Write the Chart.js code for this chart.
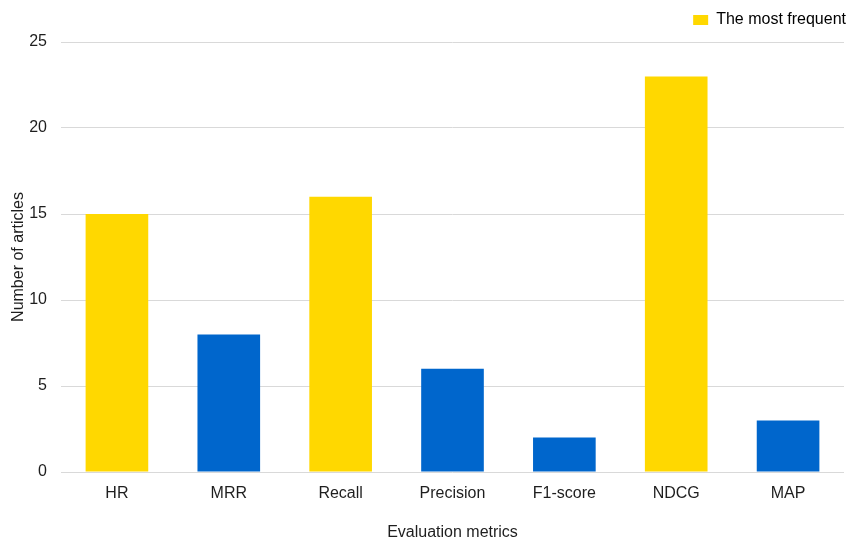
<!DOCTYPE html>
<html>
<head>
<meta charset="utf-8">
<script src="https://cdn.jsdelivr.net/npm/chart.js@4"></script>
<style>
  html, body { margin: 0; padding: 0; background: #fff; }
  #wrap { width: 849px; height: 543px; }
</style>
</head>
<body>
<div id="wrap"><canvas id="c" width="849" height="543"></canvas></div>
<script>
const categories = ["HR", "MRR", "Recall", "Precision", "F1-score", "NDCG", "MAP"];
const articleCounts = [15, 8, 16, 6, 2, 23, 3];
const mostFrequent = [true, false, true, false, false, true, false];
const yTicks = [0, 5, 10, 15, 20, 25];

const YELLOW = "#FFD800";
const BLUE = "#0066CC";
const TEXT = "#1e1e1e";
const FONT = { size: 16 };

const barColors = mostFrequent.map(f => f ? YELLOW : BLUE);

Chart.defaults.font.family = "'Liberation Sans', Arial, sans-serif";
Chart.defaults.color = TEXT;

// Leaves a little extra room under the legend before the plot starts.
const legendGap = {
  id: "legendGap",
  beforeInit(chart) {
    const fit = chart.legend.fit;
    chart.legend.fit = function () {
      fit.call(this);
      this.height += 4;
    };
  }
};

new Chart(document.getElementById("c"), {
  type: "bar",
  data: {
    labels: categories,
    datasets: [{
      label: "The most frequent",
      data: articleCounts,
      backgroundColor: barColors,
      borderWidth: 0,
      categoryPercentage: 0.56,
      barPercentage: 1.0,
      yAxisID: "y"
    }]
  },
  plugins: [legendGap],
  options: {
    responsive: false,
    animation: false,
    layout: { padding: { left: 7, right: 1, top: 10, bottom: 0 } },
    plugins: {
      legend: {
        position: "top",
        align: "end",
        labels: {
          boxWidth: 15,
          boxHeight: 10,
          padding: 2,
          font: FONT,
          color: TEXT,
          generateLabels: () => [{
            text: "The most frequent",
            fillStyle: YELLOW,
            strokeStyle: YELLOW,
            lineWidth: 0,
            hidden: false,
            datasetIndex: 0
          }]
        },
        onClick: () => {}
      },
      tooltip: { enabled: false }
    },
    scales: {
      x: {
        grid: { display: false, drawTicks: false },
        border: { display: false },
        ticks: { font: FONT, color: TEXT, padding: 12 },
        title: {
          display: true,
          text: "Evaluation metrics",
          font: FONT,
          color: TEXT,
          padding: { top: 22, bottom: 1 }
        },
        afterFit: s => { s.height = 71; }
      },
      y: {
        min: 0,
        max: 25,
        afterBuildTicks: axis => { axis.ticks = yTicks.map(v => ({ value: v })); },
        grid: { color: "#d9d9d9", drawTicks: false, lineWidth: 1 },
        border: { display: false },
        ticks: { font: FONT, color: TEXT, padding: 14 },
        title: {
          display: true,
          text: "Number of articles",
          font: FONT,
          color: TEXT,
          padding: { top: 2, bottom: 1 }
        },
        afterFit: s => { s.width = 54; }
      },
      gutter: {
        position: "right",
        display: true,
        grid: { display: false, drawTicks: false },
        border: { display: false },
        ticks: { display: false },
        afterFit: s => { s.width = 4; }
      }
    }
  }
});
</script>
</body>
</html>
